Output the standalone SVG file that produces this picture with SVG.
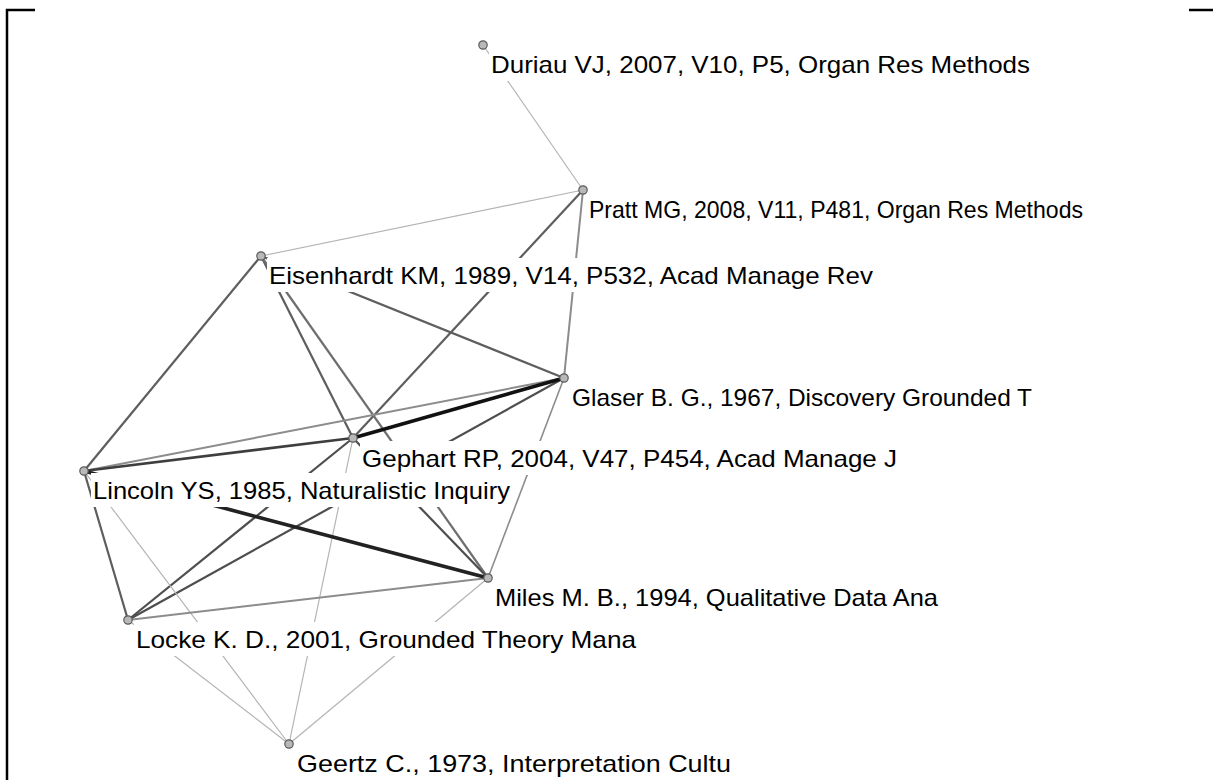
<svg xmlns="http://www.w3.org/2000/svg" width="1213" height="780" viewBox="0 0 1213 780">
<style>
.bg{fill:#fff}
.lbl{font-family:"Liberation Sans",Arial,sans-serif;font-size:24px;fill:#000}
.mask{fill:#fff}
.nd{fill:#b8b8b8;stroke:#5a5a5a;stroke-width:1.2}
.e-lt{stroke:#b4b4b4;stroke-width:1.2;fill:none}
.e-md{stroke:#8c8c8c;stroke-width:2;fill:none}
.e-dk{stroke:#5e5e5e;stroke-width:2.2;fill:none}
.e-bk{stroke:#111;stroke-width:3.6;fill:none}
.frame{stroke:#000;stroke-width:2.5;fill:none}
</style>
<rect class="bg" x="0" y="0" width="1213" height="780"/>
<g id="frame">
<path class="frame" d="M7,780 V10 H35"/>
<path class="frame" d="M1189,10 H1213"/>
</g>
<g id="connectors">
<line class="e-lt" x1="483" y1="45" x2="583" y2="190"/>
<line class="e-lt" x1="583" y1="190" x2="261" y2="256"/>
<line class="e-md" x1="583" y1="190" x2="564" y2="378"/>
<line class="e-dk" x1="583" y1="190" x2="353" y2="438"/>
<line class="e-dk" x1="261" y1="256" x2="84" y2="471"/>
<line class="e-dk" x1="261" y1="256" x2="564" y2="378"/>
<line class="e-dk" x1="261" y1="256" x2="353" y2="438"/>
<line class="e-dk" x1="261" y1="256" x2="488" y2="578" style="stroke:#6e6e6e"/>
<line class="e-md" x1="564" y1="378" x2="84" y2="471"/>
<line class="e-dk" x1="564" y1="378" x2="128" y2="620" style="stroke:#4e4e4e"/>
<line class="e-md" x1="564" y1="378" x2="488" y2="578" style="stroke-width:1.6"/>
<line class="e-dk" x1="353" y1="438" x2="84" y2="471" style="stroke:#3e3e3e;stroke-width:2.6"/>
<line class="e-dk" x1="353" y1="438" x2="128" y2="620" style="stroke:#4e4e4e"/>
<line class="e-dk" x1="353" y1="438" x2="488" y2="578" style="stroke:#4e4e4e"/>
<line class="e-lt" x1="353" y1="438" x2="289" y2="744"/>
<line class="e-dk" x1="84" y1="471" x2="128" y2="620"/>
<line class="e-lt" x1="84" y1="471" x2="289" y2="744"/>
<line class="e-md" x1="488" y1="578" x2="128" y2="620"/>
<line class="e-lt" x1="488" y1="578" x2="289" y2="744"/>
<line class="e-lt" x1="128" y1="620" x2="289" y2="744"/>
<line class="e-bk" x1="564" y1="378" x2="353" y2="438"/>
<line class="e-bk" x1="84" y1="471" x2="488" y2="578" style="stroke:#222"/>
</g>
<g id="n-duriau">
<rect class="mask" x="489" y="47" width="545" height="34"/>
<text class="lbl" x="491" y="73" textLength="539" lengthAdjust="spacingAndGlyphs">Duriau VJ, 2007, V10, P5, Organ Res Methods</text>
<circle class="nd" cx="483" cy="45" r="4.2"/>
</g>
<g id="n-pratt">
<rect class="mask" x="587" y="192" width="500" height="34"/>
<text class="lbl" x="589" y="218" textLength="494" lengthAdjust="spacingAndGlyphs">Pratt MG, 2008, V11, P481, Organ Res Methods</text>
<circle class="nd" cx="583" cy="190" r="4.2"/>
</g>
<g id="n-eisenhardt">
<rect class="mask" x="267" y="258" width="610" height="34"/>
<text class="lbl" x="269" y="284" textLength="604" lengthAdjust="spacingAndGlyphs">Eisenhardt KM, 1989, V14, P532, Acad Manage Rev</text>
<circle class="nd" cx="261" cy="256" r="4.2"/>
</g>
<g id="n-glaser">
<rect class="mask" x="570" y="380" width="466" height="34"/>
<text class="lbl" x="572" y="406" textLength="460" lengthAdjust="spacingAndGlyphs">Glaser B. G., 1967, Discovery Grounded T</text>
<circle class="nd" cx="564" cy="378" r="4.2"/>
</g>
<g id="n-gephart">
<rect class="mask" x="360" y="441" width="541" height="34"/>
<text class="lbl" x="362" y="467" textLength="535" lengthAdjust="spacingAndGlyphs">Gephart RP, 2004, V47, P454, Acad Manage J</text>
<circle class="nd" cx="353" cy="438" r="4.2"/>
</g>
<g id="n-lincoln">
<rect class="mask" x="91" y="473" width="423" height="34"/>
<text class="lbl" x="93" y="499" textLength="417" lengthAdjust="spacingAndGlyphs">Lincoln YS, 1985, Naturalistic Inquiry</text>
<circle class="nd" cx="84" cy="471" r="4.2"/>
</g>
<g id="n-miles">
<rect class="mask" x="493" y="580" width="449" height="34"/>
<text class="lbl" x="495" y="606" textLength="443" lengthAdjust="spacingAndGlyphs">Miles M. B., 1994, Qualitative Data Ana</text>
<circle class="nd" cx="488" cy="578" r="4.2"/>
</g>
<g id="n-locke">
<rect class="mask" x="134" y="622" width="506" height="34"/>
<text class="lbl" x="136" y="648" textLength="500" lengthAdjust="spacingAndGlyphs">Locke K. D., 2001, Grounded Theory Mana</text>
<circle class="nd" cx="128" cy="620" r="4.2"/>
</g>
<g id="n-geertz">
<rect class="mask" x="295" y="746" width="440" height="34"/>
<text class="lbl" x="297" y="772" textLength="434" lengthAdjust="spacingAndGlyphs">Geertz C., 1973, Interpretation Cultu</text>
<circle class="nd" cx="289" cy="744" r="4.2"/>
</g>
</svg>
